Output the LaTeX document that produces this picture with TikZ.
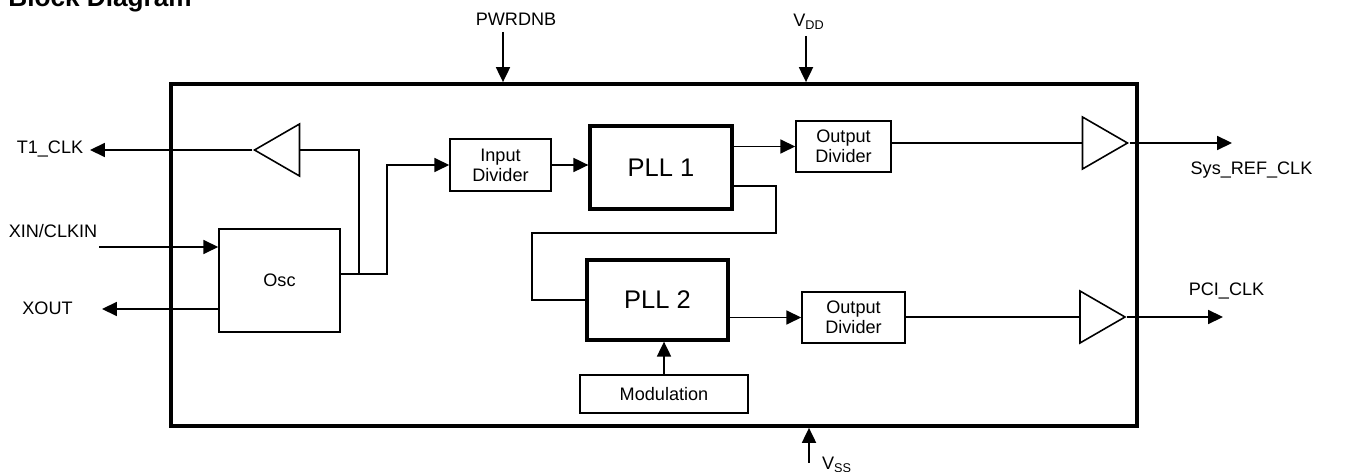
\documentclass[tikz,border=0pt]{standalone}
\usepackage{fontspec}
\setmainfont{Liberation Sans}
\usetikzlibrary{arrows.meta,shapes.geometric}
\tikzset{
	blk/.style={draw,line width=0.9pt,align=center,inner sep=0pt,font=\fontsize{10.3}{11.5}\selectfont},
	pll/.style={draw,line width=1.9pt,inner sep=0pt,font=\fontsize{14.5}{16}\selectfont},
	buf/.style={draw,line width=0.9pt,isosceles triangle,isosceles triangle stretches,inner sep=0pt,minimum width=1.04cm,minimum height=0.9cm},
	sig/.style={line width=0.9pt,-{Triangle[length=8.5pt,width=8pt]}},
	wire/.style={line width=0.9pt},
	pin/.style={font=\fontsize{10.3}{12}\selectfont,inner sep=1pt}
}
\begin{document}
\begin{tikzpicture}[x=0.02cm,y=-0.02cm]
	\useasboundingbox (0,0) rectangle (1352,472);
	\node[anchor=base west,inner sep=0pt,font=\fontsize{14.9}{16}\selectfont\bfseries] (title) at (8,7) {Block Diagram};
	\node[draw,line width=2.2pt,minimum width=19.32cm,minimum height=6.84cm] (chip) at (654,255) {};
	\node[blk,minimum width=2.42cm,minimum height=2.06cm] (osc) at (279.5,280.5) {Osc};
	\node[blk,minimum width=2.02cm,minimum height=1.04cm] (indiv) at (500.5,165) {Input\\Divider};
	\node[pll,minimum width=2.84cm,minimum height=1.66cm] (pll1) at (661,167.5) {PLL 1};
	\node[pll,minimum width=2.82cm,minimum height=1.6cm] (pll2) at (657.5,300) {PLL 2};
	\node[blk,minimum width=1.9cm,minimum height=1.02cm] (odiv1) at (843.5,146.5) {Output\\Divider};
	\node[blk,minimum width=2.06cm,minimum height=1.02cm] (odiv2) at (853.5,317.5) {Output\\Divider};
	\node[blk,minimum width=3.36cm,minimum height=0.76cm] (mod) at (664,394) {Modulation};
	\node[buf,shape border rotate=180] (bufl) at (284.5,150) {};
	\node[buf] (bufa) at (1097.5,143) {};
	\node[buf] (bufb) at (1095,317) {};
	\node[pin] (t1) at (50,149) {T1\_CLK};
	\node[pin] (xin) at (53,231) {XIN/CLKIN};
	\node[pin] (xout) at (47.5,308) {XOUT};
	\node[pin] (sys) at (1251.5,170) {Sys\_REF\_CLK};
	\node[pin] (pci) at (1226.5,291) {PCI\_CLK};
	\node[pin] (pwr) at (516,19) {PWRDNB};
	\node[pin] (vdd) at (809,22) {V\textsubscript{DD}};
	\node[pin,anchor=base west] (vss) at (820,470) {V\textsubscript{SS}};
	\coordinate (t1end) at (90,150);
	\coordinate (xinst) at (99,247);
	\coordinate (xoutend) at (102,309);
	\coordinate (j1) at (359,274);
	\coordinate (bend) at (387,274);
	\coordinate (fbst) at (0,186);
	\coordinate (fba) at (776,233);
	\coordinate (fbb) at (532,233);
	\coordinate (sysend) at (1232,143);
	\coordinate (pciend) at (1223,317);
	\coordinate (pdst) at (503,32);
	\coordinate (vddst) at (806,36);
	\coordinate (vssst) at (809,463);
	\draw[sig] (bufl.apex) -- (t1end);
	\draw[wire] (bufl.lower side) -| (j1);
	\draw[sig] (osc.east |- j1) -- (bend) |- (indiv.west);
	\draw[sig] (xinst) -- (xinst -| osc.west);
	\draw[sig] (osc.west |- xoutend) -- (xoutend);
	\draw[sig] (indiv.east) -- (indiv.east -| pll1.west);
	\draw[sig] (pll1.east |- odiv1.west) -- (odiv1.west);
	\draw[wire] (pll1.east |- fbst) -| (fba) -- (fbb) |- (pll2.west);
	\draw[sig] (pll2.east |- odiv2.west) -- (odiv2.west);
	\draw[sig] (mod.north) -- (mod.north |- pll2.south);
	\draw[wire] (odiv1.east |- bufa.lower side) -- (bufa.lower side);
	\draw[sig] (bufa.apex) -- (sysend);
	\draw[wire] (odiv2.east |- bufb.lower side) -- (bufb.lower side);
	\draw[sig] (bufb.apex) -- (pciend);
	\draw[sig] (pdst) -- (pdst |- chip.north);
	\draw[sig] (vddst) -- (vddst |- chip.north);
	\draw[sig] (vssst) -- (vssst |- chip.south);
\end{tikzpicture}
\end{document}
